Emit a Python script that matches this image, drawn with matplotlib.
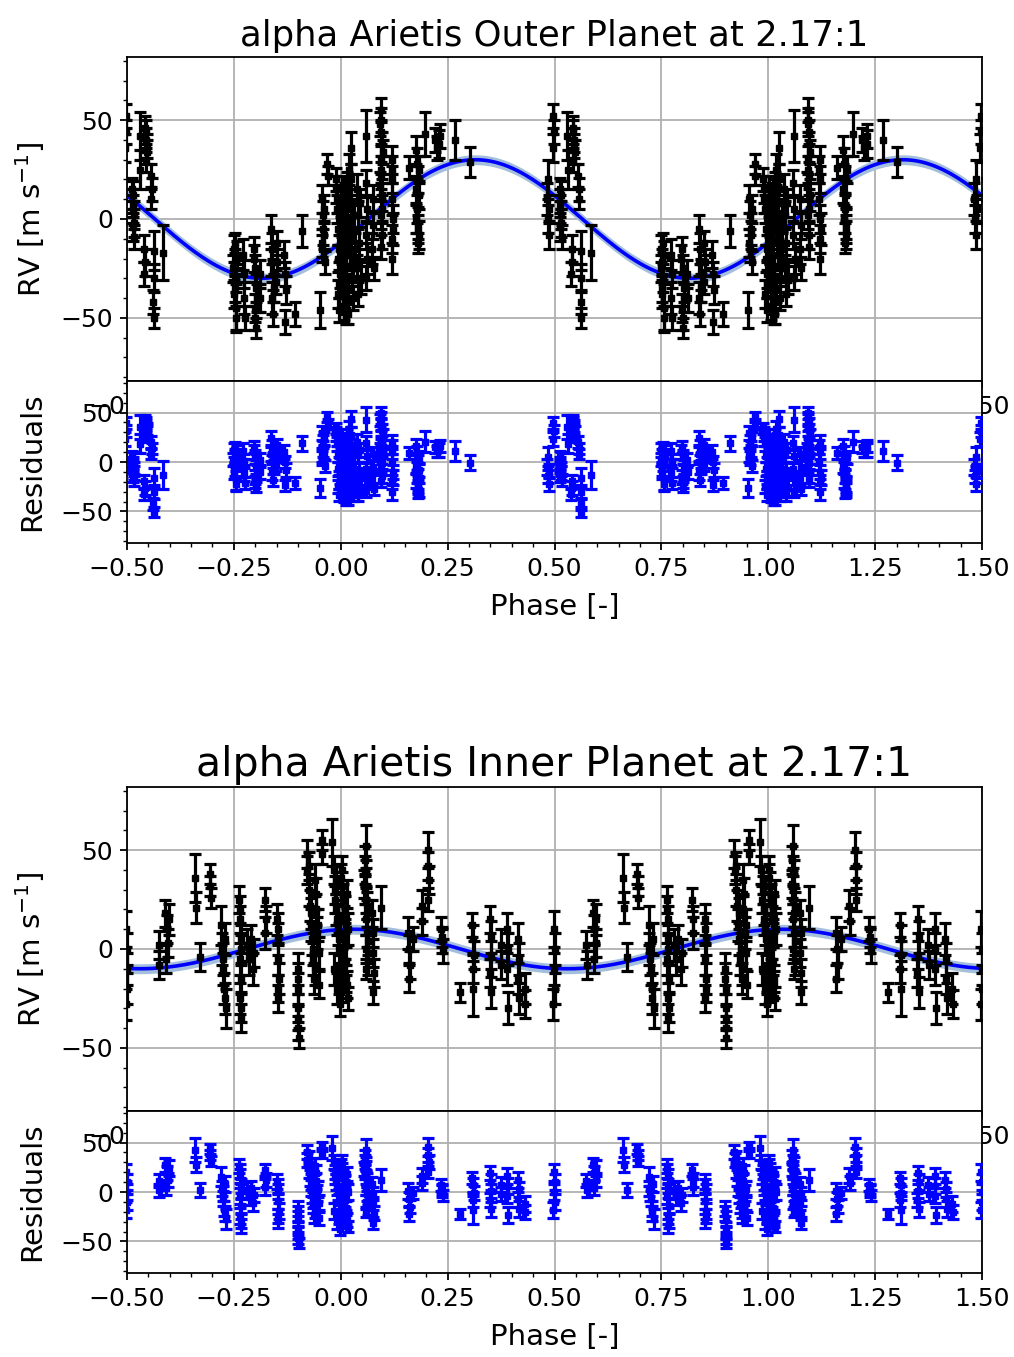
import numpy as np
import matplotlib
matplotlib.use('Agg')
import matplotlib.pyplot as plt
from matplotlib.ticker import MultipleLocator

# ---- outer planet: folded phase, RV [m/s], error [m/s]
out_phase = [0.002, 0.004, 0.006, 0.003, 0.008, 0.005, 0.010, 0.007, 0.012, 0.014, 0.009, 0.013, 0.011, 0.015, 0.016,
             0.024, 0.025, 0.023, 0.026, 0.022, 0.027, 0.028,
             0.038, 0.040, 0.042, 0.039, 0.041,
             0.060, 0.058, 0.061, 0.059, 0.062, 0.060,
             0.075, 0.076, 0.074, 0.077,
             0.093, 0.094, 0.095, 0.096, 0.094, 0.095, 0.097, 0.093, 0.096, 0.095,
             0.120, 0.121, 0.119, 0.122, 0.120, 0.121,
             0.160,
             0.175, 0.178, 0.180, 0.182, 0.179, 0.181, 0.183, 0.180,
             0.198, 0.220, 0.225, 0.232, 0.230, 0.268, 0.302,
             0.482, 0.484, 0.486, 0.485, 0.488, 0.497, 0.498, 0.496,
             0.512, 0.514, 0.516, 0.513, 0.517, 0.515,
             0.530, 0.531,
             0.543, 0.545, 0.547, 0.544,
             0.556, 0.558, 0.557,
             0.540, 0.541, 0.539,
             0.562, 0.563, 0.561, 0.562,
             0.585,
             0.750, 0.752, 0.754, 0.751, 0.756, 0.753, 0.755,
             0.772, 0.774, 0.773, 0.775,
             0.798, 0.800, 0.802, 0.799, 0.801,
             0.810, 0.812,
             0.838, 0.840, 0.842, 0.839, 0.841,
             0.850, 0.851, 0.849,
             0.868, 0.870, 0.872, 0.870,
             0.893, 0.910, 0.952,
             0.955, 0.958, 0.960, 0.957, 0.962, 0.959,
             0.968, 0.970,
             0.990, 0.992, 0.994, 0.996, 0.998, 0.993, 0.997,
             # extra points in the dense columns
             0.001, 0.003, 0.006, 0.009, 0.011, 0.013, 0.017, 0.018, 0.020, 0.019,
             0.029, 0.031, 0.033, 0.045, 0.047,
             0.092, 0.094, 0.096, 0.098, 0.091,
             0.176, 0.177, 0.184, 0.181, 0.119, 0.123,
             0.749, 0.752, 0.757, 0.797, 0.803, 0.800,
             0.991, 0.994, 0.996, 0.999, 0.988, 0.956, 0.961,
             0.838, 0.843, 0.513, 0.516, 0.546, 0.544]
out_rv = [15, 5, -5, -15, -22, -30, -38, -45, -10, 0, 10, -25, -42, 18, -48,
          36, 20, 8, -5, -18, -30, -40,
          15, 2, -12, -25, -38,
          42, 18, 5, -8, -20, -30,
          10, -3, -15, -25,
          55, 50, 44, 38, 30, 22, 12, 2, -8, -14,
          30, 20, 10, 0, -10, -20,
          26,
          35, 28, 20, 12, 5, -2, -8, -12,
          43, 40, 36, 42, 38, 40, 29,
          10, 0, -8, 20, 5, 52, 44, 36,
          15, 8, 2, -4, -9, 12,
          42, 25,
          46, 40, 34, 30,
          22, 15, 10,
          -15, -22, -28,
          -16, -30, -42, -50,
          -17,
          -15, -22, -30, -38, -45, -12, -50,
          -18, -28, -40, -50,
          -15, -25, -35, -45, -55,
          -28, -40,
          -5, -15, -28, -40, -48,
          -12, -22, -32,
          -18, -28, -36, -52,
          -48, -6, -46,
          10, 2, -8, -15, -22, -5,
          28, 22,
          15, 5, -5, -15, -28, -38, -46,
          8, -2, -20, -33, 4, -48, -35, 12, -12, 25,
          -25, 2, -15, 8, -30,
          48, 25, 5, 34, 17,
          15, 0, 25, -5, 25, -5,
          -25, -35, -18, -20, -40, -50,
          10, -20, -33, 0, 20, -12, 5,
          -22, -35, 5, -2, 37, 44]
out_err = [7, 7, 7, 8, 7, 7, 7, 6, 8, 7, 8, 7, 6, 6, 5,
           8, 8, 7, 7, 8, 7, 6,
           8, 7, 8, 7, 6,
           13, 7, 7, 7, 8, 6,
           7, 7, 8, 6,
           6, 6, 6, 6, 7, 7, 8, 7, 7, 6,
           7, 7, 8, 7, 7, 8,
           6,
           7, 8, 7, 7, 7, 8, 7, 5,
           11, 6, 6, 6, 7, 10, 7.5,
           8, 7, 7, 10, 7, 6, 6, 7,
           6, 7, 7, 7, 6, 7,
           12, 10,
           6, 6, 6, 6,
           6, 6, 5,
           7, 7, 6,
           10, 7, 6, 5,
           14,
           7, 7, 7, 7, 12, 5, 6,
           8, 7, 8, 6,
           6, 7, 7, 7, 5,
           7, 7,
           7, 8, 8, 8, 6,
           6, 7, 6,
           7, 6, 7, 6,
           6, 8, 9,
           7, 7, 7, 7, 6, 8,
           5, 5,
           7, 7, 8, 7, 7, 7, 6,
           7, 7, 8, 7, 7, 5, 7, 8, 7, 8,
           7, 8, 8, 7, 8,
           6, 7, 7, 6, 7,
           7, 7, 7, 7, 7, 8,
           7, 7, 7, 7, 7, 6,
           7, 7, 7, 8, 6, 7, 7,
           7, 7, 7, 7, 6, 6]

# ---- inner planet
in_phase = [0.002, 0.004, 0.006, 0.008, 0.010, 0.005, 0.012, 0.007, 0.014, 0.016, 0.011, 0.003,
            0.058, 0.056, 0.060, 0.057, 0.062, 0.059, 0.061, 0.058, 0.063, 0.060,
            0.074, 0.076, 0.075, 0.077, 0.076,
            0.095,
            0.158, 0.160, 0.162, 0.159, 0.170,
            0.190, 0.191,
            0.204, 0.205, 0.206, 0.205,
            0.235, 0.238, 0.240, 0.237,
            0.280,
            0.308, 0.310, 0.311, 0.309, 0.310,
            0.350, 0.352, 0.351, 0.349, 0.352,
            0.374, 0.376,
            0.389, 0.391, 0.390, 0.392,
            0.414, 0.416, 0.415, 0.417,
            0.430, 0.431,
            0.498, 0.500, 0.499, 0.501, 0.497,
            0.574, 0.575,
            0.590, 0.593, 0.596, 0.592, 0.598,
            0.660, 0.662, 0.670,
            0.694, 0.695, 0.696,
            0.720, 0.722, 0.725, 0.728, 0.732, 0.730,
            0.763, 0.765, 0.766, 0.764, 0.767, 0.765, 0.766,
            0.780, 0.785, 0.790, 0.795, 0.798,
            0.822, 0.824, 0.823,
            0.852, 0.854, 0.853, 0.855, 0.853,
            0.899, 0.900, 0.901, 0.900, 0.902,
            0.920, 0.922, 0.925, 0.928, 0.930, 0.932, 0.935, 0.938, 0.940, 0.942, 0.945, 0.948, 0.950,
            0.955, 0.956, 0.980,
            0.984, 0.987, 0.990, 0.993, 0.996, 0.985, 0.992, 0.998,
            # extra points in the dense columns
            0.001, 0.009, 0.013, 0.015, 0.004, 0.018,
            0.057, 0.059, 0.061, 0.063, 0.055,
            0.925, 0.931, 0.936, 0.943, 0.947, 0.939,
            0.988, 0.991, 0.995, 0.997, 0.986,
            0.764, 0.766, 0.767, 0.853, 0.854, 0.900, 0.899, 0.724, 0.729]
in_rv = [40, 32, 25, 15, 8, 0, -6, -12, -18, -25, 20, -8,
         52, 45, 38, 30, 22, 15, 8, 0, -6, -10,
         18, 8, -2, -12, -22,
         21,
         8, 0, -8, -15, 5,
         22, 14,
         50, 42, 35, 25,
         10, 4, -1, 6,
         -22,
         12, 5, -3, -10, -20,
         15, 6, -3, -12, -22,
         2, -8,
         10, 0, -10, -30,
         5, -5, -15, -25,
         -20, -28,
         10, 0, -10, -20, -28,
         2, -8,
         18, 10, 3, -5, 15,
         36, 21, -4,
         38, 32, 26,
         12, 0, -10, -20, -30, 5,
         25, 15, 5, -5, -15, -25, -35,
         2, -5, 5, -10, -2,
         25, 15, 8,
         15, 5, -5, -15, -25,
         -10, -20, -30, -40, -45,
         48, 40, 30, 22, 12, 5, -5, -15, 35, 20, 8, -2, -18,
         55, 48, 54,
         40, 30, 20, 10, 0, -10, -20, -28,
         36, 2, -15, 28, -20, 10,
         40, 25, 18, 4, 33,
         42, 18, 0, 28, 12, -10,
         35, 15, 5, -15, 25,
         20, 0, -30, 10, -20, -35, -15, -5, -25]
in_err = [7, 7, 8, 7, 7, 8, 7, 7, 7, 6, 7, 8,
          11, 7, 7, 7, 7, 8, 7, 7, 7, 5,
          7, 7, 7, 7, 6,
          11,
          8, 7, 7, 7, 6,
          8, 7,
          9, 7, 7, 6,
          6, 6, 6, 5,
          5,
          6, 7, 7, 7, 14,
          7, 8, 7, 7, 8,
          8, 7,
          8, 8, 8, 8,
          8, 8, 8, 8,
          8, 7,
          9, 8, 8, 8, 8,
          7, 7,
          7, 7, 7, 7, 8,
          12, 8, 7,
          5, 5, 5,
          10, 8, 8, 8, 10, 8,
          7, 7, 7, 8, 7, 8, 7,
          8, 8, 7, 8, 7,
          6, 7, 8,
          8, 8, 8, 8, 7,
          8, 8, 7, 6, 5,
          7, 7, 8, 8, 8, 8, 8, 8, 8, 8, 8, 8, 7,
          5, 5, 12,
          7, 7, 8, 8, 8, 8, 8, 6,
          7, 7, 7, 7, 7, 8,
          7, 7, 7, 7, 7,
          7, 8, 8, 8, 8, 8,
          7, 8, 8, 8, 7,
          7, 7, 7, 8, 7, 6, 8, 8, 8]

# fitted circular-orbit models (semi-amplitude, phase of max) and model uncertainty
out_K, out_peak = 30.0, 0.315
in_K, in_peak = 10.0, 0.03
band = 2.5

W, H = 1014, 1357
fig = plt.figure(figsize=(W / 100, H / 100), dpi=100)

def box(l, t, r, b):
    return [l / W, 1 - b / H, (r - l) / W, (b - t) / H]

def panel(top, phase, rv, err, K, peak, title, tsize):
    ax = fig.add_axes(box(127, top, 982, top + 324))
    axr = fig.add_axes(box(127, top + 324, 982, top + 486))
    phase = np.array(phase)
    rv = np.array(rv, dtype=float)
    err = np.array(err, dtype=float)
    grid = np.linspace(-0.5, 1.5, 400)
    model = K * np.cos(2 * np.pi * (grid - peak))
    res = rv - K * np.cos(2 * np.pi * (phase - peak))

    ax.fill_between(grid, model - band, model + band, color='#a3bfdc', lw=0, zorder=2)
    ax.plot(grid, model, color='#0000ff', lw=2.6, zorder=3)
    for s in (-1, 0, 1):
        ax.errorbar(phase + s, rv, yerr=err, fmt='s', color='k', ms=4.5,
                    elinewidth=2.3, capsize=4, capthick=2.3, zorder=4)
        axr.errorbar(phase + s, res, yerr=err, fmt='s', color='#0000ff', ms=4.5,
                     elinewidth=2.3, capsize=4, capthick=2.3, zorder=4)

    for a in (ax, axr):
        a.set_xlim(-0.5, 1.5)
        a.set_ylim(-82, 82)
        a.xaxis.set_major_locator(MultipleLocator(0.25))
        a.yaxis.set_major_locator(MultipleLocator(50))
        a.yaxis.set_minor_locator(MultipleLocator(10))
        a.grid(True, color='#b0b0b0', lw=1.3)
        a.set_axisbelow(True)
        a.tick_params(labelsize=18, width=1.3, length=5, pad=5)
        a.tick_params(which='minor', width=1, length=3)
        for sp in a.spines.values():
            sp.set_linewidth(1.3)
    axr.xaxis.set_minor_locator(MultipleLocator(0.05))
    ax.set_ylabel(r'RV [m s$^{-1}$]', fontsize=21, labelpad=10)
    axr.set_ylabel('Residuals', fontsize=21, labelpad=10)
    axr.set_xlabel('Phase [-]', fontsize=21, labelpad=9)
    ax.set_title(title, fontsize=tsize, pad=8)

panel(57, out_phase, out_rv, out_err, out_K, out_peak,
      'alpha Arietis Outer Planet at 2.17:1', 25.5)
panel(787, in_phase, in_rv, in_err, in_K, in_peak,
      'alpha Arietis Inner Planet at 2.17:1', 29.5)

fig.savefig('out.png', dpi=100)
